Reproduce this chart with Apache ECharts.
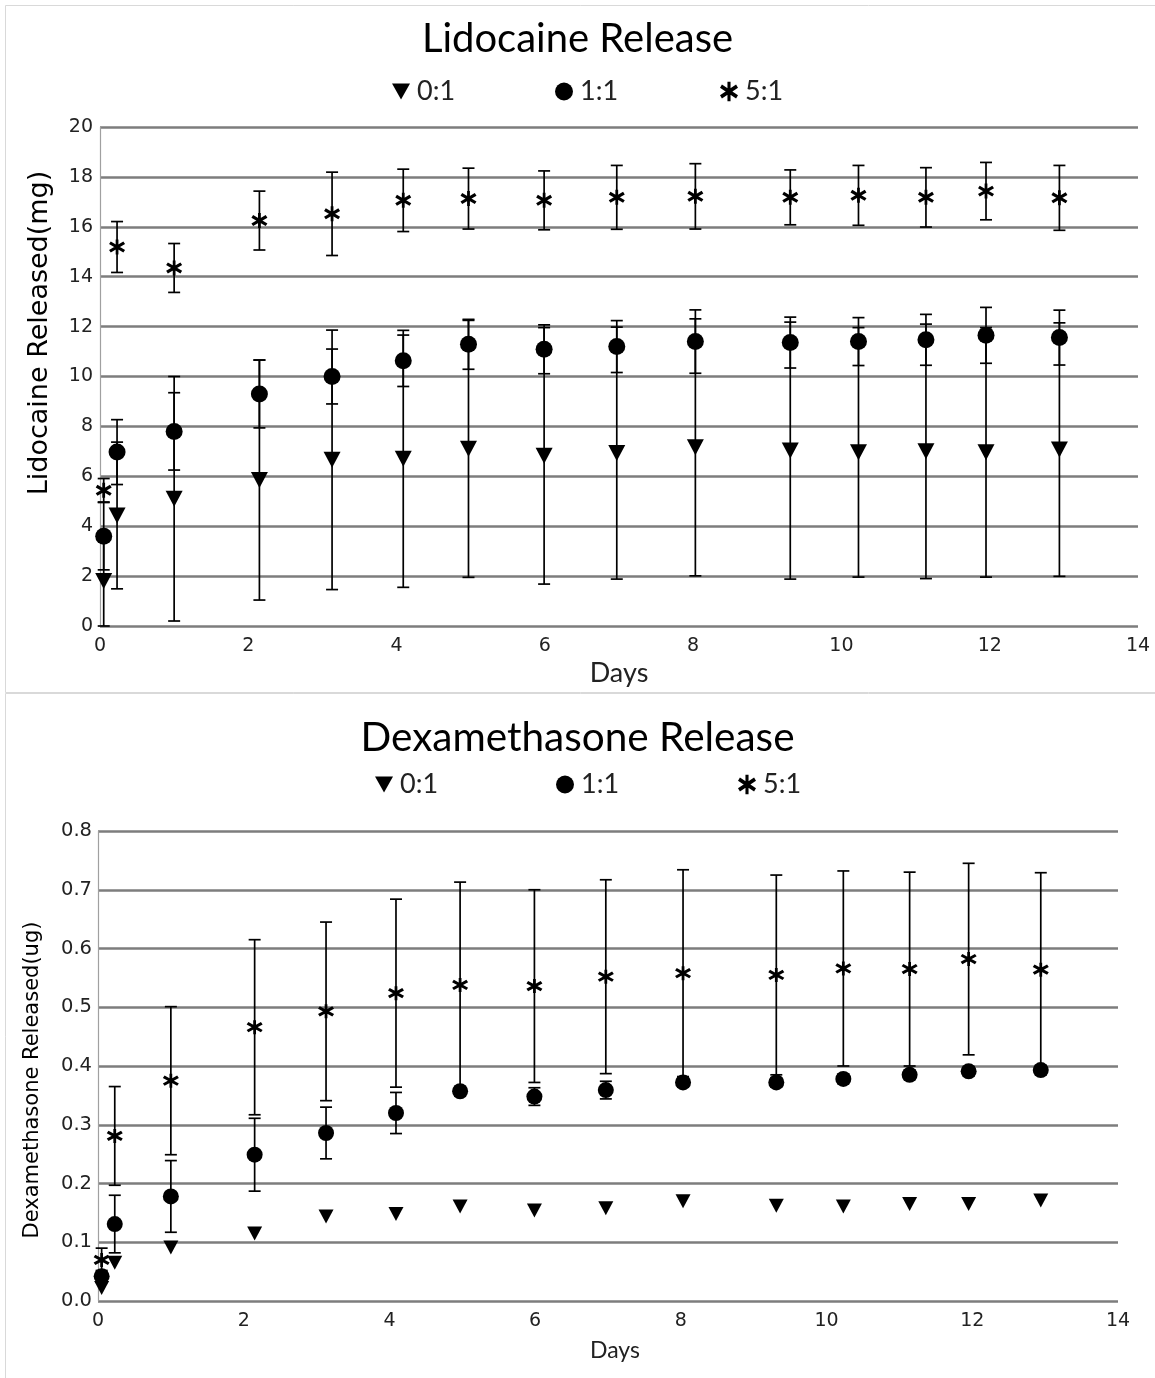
<!DOCTYPE html>
<html><head><meta charset="utf-8">
<script src="https://cdn.jsdelivr.net/npm/echarts@6/dist/echarts.min.js"></script>
<style>html,body{margin:0;padding:0;background:#fff}#c{width:1155px;height:1378px}</style>
</head><body><div id="c"></div>
<script>
// ---- data ----
const days = [0.05, 0.23, 1.0, 2.15, 3.13, 4.09, 4.97, 5.99, 6.97, 8.03, 9.31, 10.23, 11.14, 11.95, 12.94];
const seriesNames = ['0:1', '1:1', '5:1'];
const xTicks = [0, 2, 4, 6, 8, 10, 12, 14];
const lidoTicks = [0, 2, 4, 6, 8, 10, 12, 14, 16, 18, 20];
const dexTicks = ['0.0', '0.1', '0.2', '0.3', '0.4', '0.5', '0.6', '0.7', '0.8'];

// Lidocaine released (mg)
const lidoTri     = [1.8, 4.43, 5.1, 5.85, 6.66, 6.7, 7.1, 6.82, 6.93, 7.16, 7.03, 6.96, 7.0, 6.96, 7.07];
const lidoTriErr  = [1.8, 2.94, 4.9, 4.81, 5.2, 5.15, 5.15, 5.14, 5.05, 5.15, 5.15, 5.0, 5.1, 5.0, 5.08];
const lidoCir     = [3.6, 6.97, 7.8, 9.3, 10.0, 10.63, 11.29, 11.09, 11.2, 11.4, 11.36, 11.4, 11.47, 11.65, 11.56];
const lidoCirErr  = [1.35, 1.3, 1.55, 1.36, 1.1, 1.03, 1.0, 0.98, 1.04, 1.27, 1.02, 0.96, 1.02, 1.12, 1.1];
const lidoStar    = [5.44, 15.19, 14.35, 16.25, 16.52, 17.06, 17.13, 17.06, 17.18, 17.22, 17.18, 17.26, 17.18, 17.43, 17.16];
const lidoStarErr = [0.47, 1.02, 0.98, 1.18, 1.67, 1.25, 1.22, 1.18, 1.28, 1.31, 1.1, 1.2, 1.19, 1.15, 1.3];

// Dexamethasone released (ug)
const dexTri     = [0.022, 0.065, 0.091, 0.115, 0.144, 0.148, 0.161, 0.154, 0.158, 0.170, 0.162, 0.161, 0.165, 0.165, 0.171];
const dexTriErr  = [0, 0, 0, 0, 0, 0, 0, 0, 0, 0, 0, 0, 0, 0, 0];
const dexCir     = [0.042, 0.131, 0.178, 0.249, 0.286, 0.32, 0.357, 0.348, 0.359, 0.372, 0.372, 0.378, 0.385, 0.391, 0.393];
const dexCirErr  = [0.01, 0.049, 0.061, 0.062, 0.044, 0.035, 0.008, 0.015, 0.015, 0.008, 0.008, 0.008, 0.008, 0.008, 0.008];
const dexStar    = [0.07, 0.281, 0.375, 0.466, 0.493, 0.524, 0.538, 0.536, 0.552, 0.558, 0.555, 0.566, 0.565, 0.582, 0.564];
const dexStarErr = [0.02, 0.084, 0.126, 0.149, 0.152, 0.16, 0.175, 0.164, 0.165, 0.176, 0.17, 0.166, 0.165, 0.163, 0.165];

// ---- symbols ----
const TRI_DOWN = 'path://M0,0 L100,0 L50,90 Z';
const ASTER = 'path://M42,0 L58,0 L58,100 L42,100 Z M86.5,13.4 L96.5,30.7 L13.5,86.6 L3.5,69.3 Z M13.5,13.4 L96.5,69.3 L86.5,86.6 L3.5,30.7 Z';

const GRID_COLOR = '#7d7d7d';
const TXT = '#222';
const TICK_FONT = 'DejaVu Sans';
const NAME_FONT = 'Lato';

function pts(vals) { return days.map((d, i) => [d, vals[i]]); }
function errPts(vals, errs) { return days.map((d, i) => [d, vals[i], errs[i]]); }

function errSeries(idx, vals, errs, capW, name) {
  return {
    type: 'custom', name: name, xAxisIndex: idx, yAxisIndex: idx, z: 2,
    silent: true, itemStyle: { color: '#000' },
    data: errPts(vals, errs),
    renderItem: function (params, api) {
      const x = api.value(0), y = api.value(1), e = api.value(2);
      if (!(e > 0)) return null;
      const lo = Math.max(0, y - e), hi = y + e;
      const a = api.coord([x, hi]), b = api.coord([x, lo]);
      const st = { stroke: '#000', lineWidth: 1.7, fill: null };
      return { type: 'group', children: [
        { type: 'line', shape: { x1: a[0], y1: a[1], x2: b[0], y2: b[1] }, style: st },
        { type: 'line', shape: { x1: a[0] - capW / 2, y1: a[1], x2: a[0] + capW / 2, y2: a[1] }, style: st },
        { type: 'line', shape: { x1: b[0] - capW / 2, y1: b[1], x2: b[0] + capW / 2, y2: b[1] }, style: st }
      ]};
    }
  };
}

function scat(idx, name, vals, symbol, size) {
  return {
    type: 'scatter', name: name, xAxisIndex: idx, yAxisIndex: idx, z: 5,
    data: pts(vals), symbol: symbol, symbolSize: size,
    itemStyle: { color: '#000', opacity: 1 }
  };
}

function xAxisCfg(idx, nameGap, nameSize, padLeft) {
  return {
    type: 'value', gridIndex: idx, min: 0, max: 14, interval: 2,
    name: 'Days', nameLocation: 'middle', nameGap: nameGap,
    nameTextStyle: { fontFamily: NAME_FONT, fontSize: nameSize, color: TXT, padding: [0, 0, 0, padLeft] },
    axisLine: { show: false }, axisTick: { show: false },
    splitLine: { show: false },
    axisLabel: { fontFamily: TICK_FONT, fontSize: 19, color: TXT, margin: 11,
      formatter: v => xTicks.indexOf(v) >= 0 ? String(v) : '' }
  };
}

function legendItem(left, top, idx, icon) {
  return { left: left, top: top, padding: 0, itemWidth: 18, itemHeight: 20, itemGap: 0,
    selectedMode: false,
    textStyle: { fontFamily: NAME_FONT, fontSize: 27, color: TXT, padding: [0, 0, 0, 2] },
    itemStyle: { color: '#000' },
    data: [ { name: seriesNames[idx], icon: icon, itemStyle: { color: '#000' } } ] };
}

const option = {
  backgroundColor: '#fff',
  color: ['#000', '#000', '#000'],
  animation: false,
  title: [
    { text: 'Lidocaine Release', left: 'center', top: 14, textStyle: { fontFamily: NAME_FONT, fontSize: 40, fontWeight: 'normal', color: '#000' } },
    { text: 'Dexamethasone Release', left: 'center', top: 712, textStyle: { fontFamily: NAME_FONT, fontSize: 40.5, fontWeight: 'normal', color: '#000' } }
  ],
  legend: [
    legendItem(392, 78, 0, TRI_DOWN), legendItem(555, 78, 1, 'circle'), legendItem(720, 78, 2, ASTER),
    legendItem(375, 771, 0, TRI_DOWN), legendItem(556, 771, 1, 'circle'), legendItem(738, 771, 2, ASTER)
  ],
  grid: [
    { left: 100, right: 17, top: 127, height: 499, containLabel: false },
    { left: 98, right: 37, top: 831, height: 470, containLabel: false }
  ],
  xAxis: [ xAxisCfg(0, 34, 27, 0), xAxisCfg(1, 38, 23, 14) ],
  yAxis: [
    { type: 'value', gridIndex: 0, min: 0, max: 20, interval: 2,
      axisLine: { show: true, lineStyle: { color: '#a0a0a0', width: 1.2 } }, axisTick: { show: false },
      splitLine: { show: true, lineStyle: { color: GRID_COLOR, width: 2.5 } },
      axisLabel: { fontFamily: TICK_FONT, fontSize: 19, color: TXT, margin: 7,
        formatter: v => lidoTicks.indexOf(v) >= 0 ? String(v) : '' } },
    { type: 'value', gridIndex: 1, min: 0, max: 0.8, interval: 0.1,
      axisLine: { show: true, lineStyle: { color: '#a0a0a0', width: 1.2 } }, axisTick: { show: false },
      splitLine: { show: true, lineStyle: { color: GRID_COLOR, width: 2.5 } },
      axisLabel: { fontFamily: TICK_FONT, fontSize: 19.5, color: TXT, margin: 6,
        formatter: v => dexTicks[Math.round(v * 10)] } }
  ],
  graphic: [
    { type: 'rect', shape: { x: 5.5, y: 5.5, width: 1160, height: 687 }, style: { fill: null, stroke: '#d9d9d9', lineWidth: 1 }, silent: true },
    { type: 'rect', shape: { x: 5.5, y: 693.5, width: 1160, height: 700 }, style: { fill: null, stroke: '#d9d9d9', lineWidth: 1 }, silent: true },
    { type: 'text', x: 40, y: 333, rotation: Math.PI / 2, silent: true,
      style: { text: 'Lidocaine Released(mg)', font: '27px "DejaVu Sans"', fill: '#000', textAlign: 'center', textVerticalAlign: 'middle' } },
    { type: 'text', x: 33, y: 1080, rotation: Math.PI / 2, silent: true,
      style: { text: 'Dexamethasone Released(ug)', font: '21px "DejaVu Sans"', fill: '#000', textAlign: 'center', textVerticalAlign: 'middle' } }
  ],
  series: [
    errSeries(0, lidoTri, lidoTriErr, 12, seriesNames[0]),
    errSeries(0, lidoCir, lidoCirErr, 12, seriesNames[1]),
    errSeries(0, lidoStar, lidoStarErr, 12, seriesNames[2]),
    scat(0, seriesNames[0], lidoTri, TRI_DOWN, [17, 16]),
    scat(0, seriesNames[1], lidoCir, 'circle', 17),
    scat(0, seriesNames[2], lidoStar, ASTER, [16, 15]),
    errSeries(1, dexTri, dexTriErr, 12, seriesNames[0]),
    errSeries(1, dexCir, dexCirErr, 12, seriesNames[1]),
    errSeries(1, dexStar, dexStarErr, 12, seriesNames[2]),
    scat(1, seriesNames[0], dexTri, TRI_DOWN, [15, 14]),
    scat(1, seriesNames[1], dexCir, 'circle', 16),
    scat(1, seriesNames[2], dexStar, ASTER, [16, 14])
  ]
};

const chart = echarts.init(document.getElementById('c'), null, { renderer: 'canvas' });
chart.setOption(option);
</script>
</body></html>
